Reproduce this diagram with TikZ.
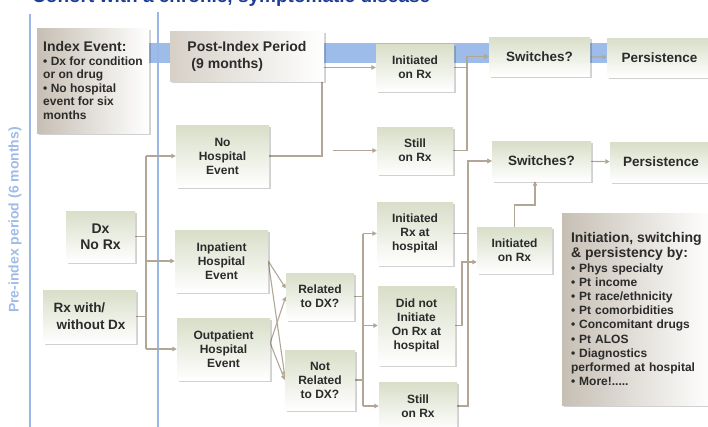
\documentclass[tikz,border=0pt]{standalone}
\usepackage{fontspec}
\setmainfont{Liberation Sans}
\usetikzlibrary{arrows.meta,shadows,calc}

\definecolor{bandblue}{HTML}{9DBCE9}
\definecolor{lineblue}{HTML}{9AB7E8}
\definecolor{sage}{HTML}{D8DEC8}
\definecolor{stone}{HTML}{C6BFB4}
\definecolor{stonelight}{HTML}{D6D0C7}
\definecolor{conncol}{HTML}{B2A797}
\definecolor{txt}{HTML}{2B2B2B}
\definecolor{titleblue}{HTML}{1D3C94}

\pgfdeclarelayer{bg}
\pgfsetlayers{bg,main}

\tikzset{
  shadowed/.style={drop shadow={shadow xshift=1.6pt, shadow yshift=-1.6pt, fill=black, opacity=0.18}},
  gbox/.style={shadowed, top color=sage, bottom color=white, inner sep=2pt,
    align=center, text=txt, font=\fontsize{12}{14}\selectfont\bfseries},
  bigbox/.style={gbox, font=\fontsize{13.5}{16}\selectfont\bfseries},
  sbox/.style={shadowed, left color=stone, right color=white, inner sep=2pt,
    align=left, text=txt},
  conn/.style={draw=conncol, line width=1.1pt},
  arr/.style={conn, -{Triangle[length=4.5pt,width=4.5pt]}},
  blueline/.style={draw=lineblue, line width=2.4pt},
}

\begin{document}
\begin{tikzpicture}[x=1pt,y=-1pt]
\useasboundingbox (0,0) rectangle (708,426);
\clip (0,0) rectangle (708,426);

% heading, mostly above the page edge
\node[anchor=base west, inner sep=0, text=titleblue,
      font=\fontsize{19}{22}\selectfont\bfseries] (title) at (32,2)
      {Cohort with a chronic, symptomatic disease};

% side label for the pre-index period
\node[rotate=90, inner sep=0, text=lineblue!95!white,
      font=\fontsize{14}{16}\selectfont\bfseries] (pre) at (15,220)
      {Pre-index period (6 months)};

% grey header boxes
\node[sbox, minimum width=112, minimum height=105,
      font=\fontsize{12}{13.6}\selectfont\bfseries] (idx) at (93,80.5)
  {{\fontsize{14}{16}\selectfont Index Event:}\\
   • Dx for condition\\ or on drug\\ • No hospital\\ event for six\\ months};
\node[sbox, left color=stonelight, minimum width=154, minimum height=50,
      font=\fontsize{14}{17}\selectfont\bfseries] (post) at (247,56)
  {Post-Index Period\\\hspace*{4pt}(9 months)};

% pre-index starting points
\node[gbox, font=\fontsize{14}{16.5}\selectfont\bfseries,
      minimum width=69, minimum height=51] (dxnorx) at (100.5,236.5) {Dx\\No Rx};
\node[gbox, align=left, font=\fontsize{13.5}{17}\selectfont\bfseries,
      minimum width=93, minimum height=53] (rxwith) at (89.5,316.5)
  {Rx with/\\\hspace*{3pt}without Dx};

% hospital events
\node[gbox, minimum width=93, minimum height=62] (nohosp) at (222.5,156) {No\\Hospital\\Event};
\node[gbox, minimum width=93, minimum height=62] (inpat)  at (221.5,261) {Inpatient\\Hospital\\Event};
\node[gbox, minimum width=93, minimum height=62] (outpat) at (223.5,349) {Outpatient\\Hospital\\Event};

% relation to diagnosis
\node[gbox, minimum width=68, minimum height=47] (rel)    at (320,296.5) {Related\\to DX?};
\node[gbox, minimum width=70, minimum height=60] (notrel) at (320,380) {Not\\Related\\to DX?};

% treatment outcomes
\node[gbox, minimum width=78, minimum height=47] (ini1)    at (415,67.5) {Initiated\\on Rx};
\node[gbox, minimum width=76, minimum height=47] (still1)  at (415,150.5) {Still\\on Rx};
\node[gbox, minimum width=76, minimum height=63] (inihosp) at (415,233.5) {Initiated\\Rx at\\hospital};
\node[gbox, minimum width=77, minimum height=79] (didnot)  at (416.5,325.5) {Did not\\Initiate\\On Rx at\\hospital};
\node[gbox, minimum width=78, minimum height=48] (still2)  at (418,406) {Still\\on Rx};
\node[gbox, minimum width=75, minimum height=46] (ini2)    at (514.5,250) {Initiated\\on Rx};

% switching and persistence
\node[bigbox, minimum width=101, minimum height=39] (sw1)  at (539.5,56.5) {Switches?};
\node[bigbox, minimum width=105, minimum height=39] (per1) at (659.5,57.5) {Persistence};
\node[bigbox, minimum width=99,  minimum height=40] (sw2)  at (541.5,161) {Switches?};
\node[bigbox, minimum width=102, minimum height=40] (per2) at (661,162) {Persistence};

% factors box
\node[sbox, text width=132, inner sep=9, minimum height=192,
      font=\fontsize{12}{14.2}\selectfont\bfseries] (factors) at (637,309)
  {{\fontsize{14}{15.5}\selectfont Initiation, switching\\ \& persistency by:\par}
   • Phys specialty\\ • Pt income\\ • Pt race/ethnicity\\ • Pt comorbidities\\
   • Concomitant drugs\\ • Pt ALOS\\ • Diagnostics\\ performed at hospital\\ • More!.....};

\begin{pgfonlayer}{bg}
  % timeline band
  \fill[bandblue] (148,43) rectangle (712,63);

  % period dividers
  \draw[blueline] (30,14) -- (30,430);
  \draw[blueline] (158,12) -- (158,430);

  % pre-index to hospital events
  \coordinate (bL) at (146,0);
  \draw[conn] (dxnorx.east) -- (dxnorx.east -| bL);
  \draw[conn] (rxwith.east) -- (rxwith.east -| bL);
  \draw[conn] (nohosp.west -| bL) -- (outpat.west -| bL);
  \foreach \t in {nohosp,inpat,outpat}
    \draw[arr] (\t.west -| bL) -- (\t.west);

  % hospital events to relation
  \draw[arr] (inpat.east) -- ($(rel.west)+(0,-8)$);
  \draw[arr] (inpat.east) -- ($(notrel.west)+(0,-4)$);
  \draw[arr] ($(outpat.east)+(0,-6)$) -- (rel.west);
  \draw[arr] ($(outpat.east)+(0,-6)$) -- (notrel.west);

  % relation to outcomes
  \coordinate (bR) at (363,0);
  \draw[conn] (rel.east) -- (rel.east -| bR);
  \draw[conn] (notrel.east) -- (notrel.east -| bR);
  \draw[conn] (inihosp.west -| bR) -- (still2.west -| bR);
  \foreach \t in {inihosp,didnot,still2}
    \draw[arr] (\t.west -| bR) -- (\t.west);

  % no hospital event path
  \coordinate (jPost) at (322,0);
  \draw[arr] (nohosp.east) -- (nohosp.east -| jPost) |- (ini1.west);
  \coordinate (s0) at (333,0);
  \draw[arr] (still1.west -| s0) -- (still1.west);

  % top switching chain
  \coordinate (jTop) at (467,0);
  \draw[arr] (ini1.east) -- (ini1.east -| jTop) |- (sw1.west);
  \draw[arr] (still1.east) -- (still1.east -| jTop) |- (sw1.west);
  \draw[arr] (sw1) -- (per1);

  % hospital switching chain
  \coordinate (jMid) at (468,0);
  \draw[arr] (inihosp.east) -- (inihosp.east -| jMid) |- (sw2.west);
  \draw[arr] (still2.east) -- (still2.east -| jMid) |- (sw2.west);
  \coordinate (jDid) at (462,0);
  \coordinate (ini2in) at ($(ini2.west)+(0,12)$);
  \draw[arr] (didnot.east) -- (didnot.east -| jDid) |- (ini2in);
  \coordinate (jUp) at (535,205);
  \draw[arr] (ini2.north) |- (jUp) -- (jUp |- sw2.south);
  \draw[arr] (sw2) -- (per2);
\end{pgfonlayer}
\end{tikzpicture}
\end{document}
